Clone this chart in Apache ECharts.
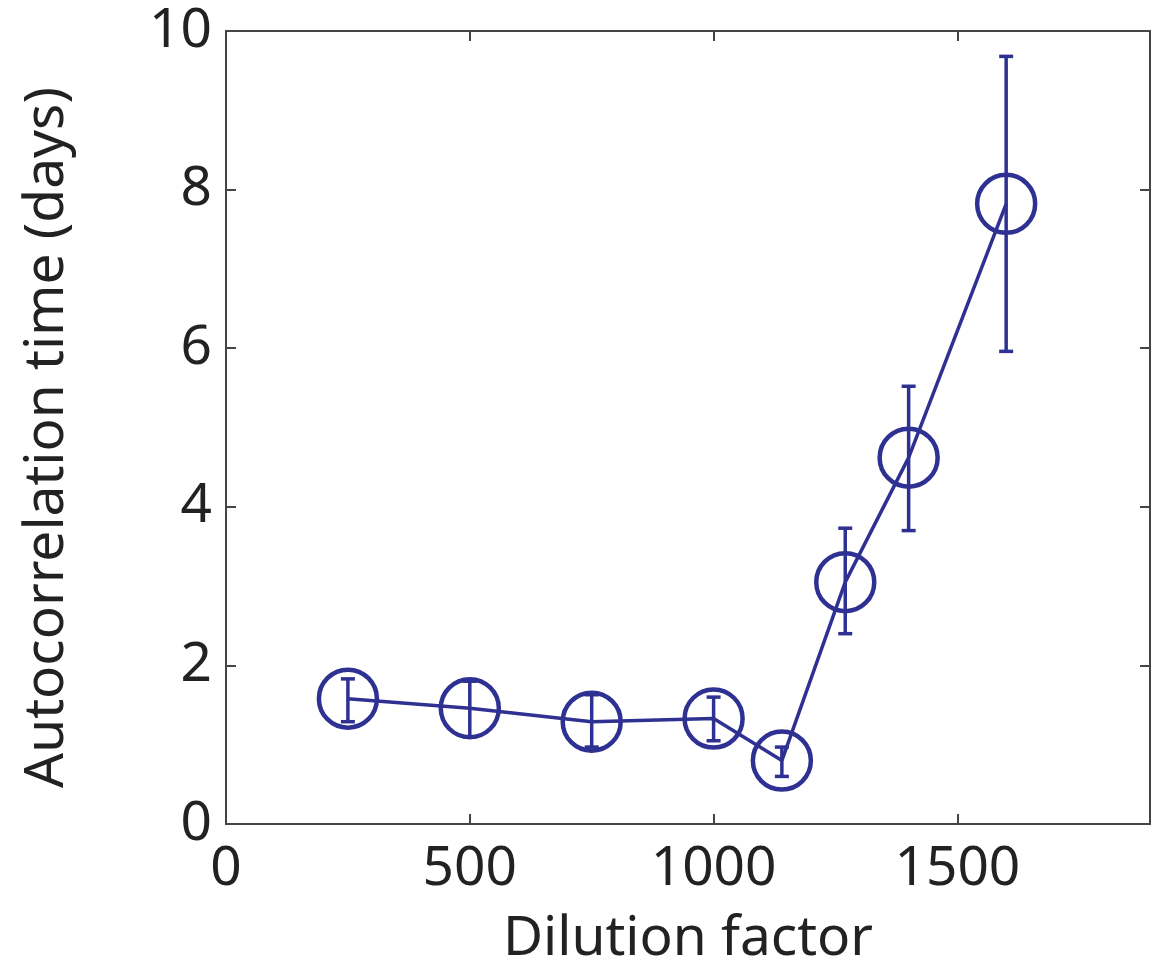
<!DOCTYPE html>
<html>
<head>
<meta charset="utf-8">
<script src="https://cdn.jsdelivr.net/npm/echarts@6/dist/echarts.min.js"></script>
<style>
  html, body { margin: 0; padding: 0; background: #fff; }
  #chart { width: 1153px; height: 972px; }
</style>
</head>
<body>
<div id="chart"></div>
<script>
// dilution factor (x) and autocorrelation time in days (y)
const dilution = [250, 500, 750, 1000, 1140, 1270, 1400, 1600];
const tau      = [1.58, 1.46, 1.29, 1.33, 0.80, 3.05, 4.62, 7.82];
// error bar ends
const tauLow   = [1.29, 1.10, 0.97, 1.05, 0.60, 2.40, 3.70, 5.96];
const tauHigh  = [1.83, 1.80, 1.63, 1.60, 0.97, 3.73, 5.52, 9.68];

const xTicks = [0, 500, 1000, 1500];
const yTicks = [0, 2, 4, 6, 8, 10];

const blue = '#2e3192';
const axisColor = '#444';
const font = '"Noto Sans", "Open Sans", sans-serif';

const chart = echarts.init(document.getElementById('chart'));

const pts = dilution.map((x, i) => [x, tau[i]]);
const bars = dilution.map((x, i) => [x, tauLow[i], tauHigh[i]]);

// shared axis look, MATLAB-style box with inward ticks
const baseAxis = {
  type: 'value',
  axisLine: { show: true, onZero: false, lineStyle: { color: axisColor, width: 2 } },
  axisTick: { show: true, inside: true, length: 10, lineStyle: { color: axisColor, width: 2 } },
  splitLine: { show: false }
};

const option = {
  animation: false,
  backgroundColor: '#fff',
  grid: { left: 226, right: 2, top: 31, bottom: 146 },
  xAxis: [
    Object.assign({}, baseAxis, {
      min: 0, max: 1895, interval: 500,
      name: 'Dilution factor',
      nameLocation: 'middle',
      nameGap: 88,
      nameTextStyle: { fontFamily: font, fontSize: 55, color: '#222' },
      axisLabel: {
        fontFamily: font, fontSize: 55, color: '#222', margin: 18,
        formatter: v => xTicks.includes(v) ? String(v) : ''
      }
    }),
    Object.assign({}, baseAxis, {
      position: 'top', min: 0, max: 1895, interval: 500,
      axisLabel: { show: false }
    })
  ],
  yAxis: [
    Object.assign({}, baseAxis, {
      min: 0, max: 10, interval: 2,
      name: 'Autocorrelation time (days)',
      nameLocation: 'middle',
      nameGap: 151,
      nameTextStyle: { fontFamily: font, fontSize: 55, color: '#222', padding: [0, 20, 0, 0] },
      axisLabel: {
        fontFamily: font, fontSize: 55, color: '#222', margin: 14,
        formatter: v => yTicks.includes(v) ? String(v) : ''
      }
    }),
    Object.assign({}, baseAxis, {
      position: 'right', min: 0, max: 10, interval: 2,
      axisLabel: { show: false }
    })
  ],
  series: [
    {
      type: 'custom',
      name: 'error',
      xAxisIndex: 0,
      yAxisIndex: 0,
      data: bars,
      z: 3,
      renderItem: function (params, api) {
        const x = api.value(0);
        const lo = api.coord([x, api.value(1)]);
        const hi = api.coord([x, api.value(2)]);
        const cap = 7;
        const style = { stroke: blue, lineWidth: 3.5 };
        return {
          type: 'group',
          children: [
            { type: 'line', shape: { x1: lo[0], y1: lo[1], x2: hi[0], y2: hi[1] }, style: style },
            { type: 'line', shape: { x1: lo[0] - cap, y1: lo[1], x2: lo[0] + cap, y2: lo[1] }, style: style },
            { type: 'line', shape: { x1: hi[0] - cap, y1: hi[1], x2: hi[0] + cap, y2: hi[1] }, style: style }
          ]
        };
      }
    },
    {
      type: 'line',
      name: 'tau',
      xAxisIndex: 0,
      yAxisIndex: 0,
      data: pts,
      z: 4,
      symbol: 'circle',
      symbolSize: 58,
      lineStyle: { color: blue, width: 3.5 },
      itemStyle: { color: 'rgba(0,0,0,0)', borderColor: blue, borderWidth: 4.5 }
    }
  ]
};

chart.setOption(option);
</script>
</body>
</html>
